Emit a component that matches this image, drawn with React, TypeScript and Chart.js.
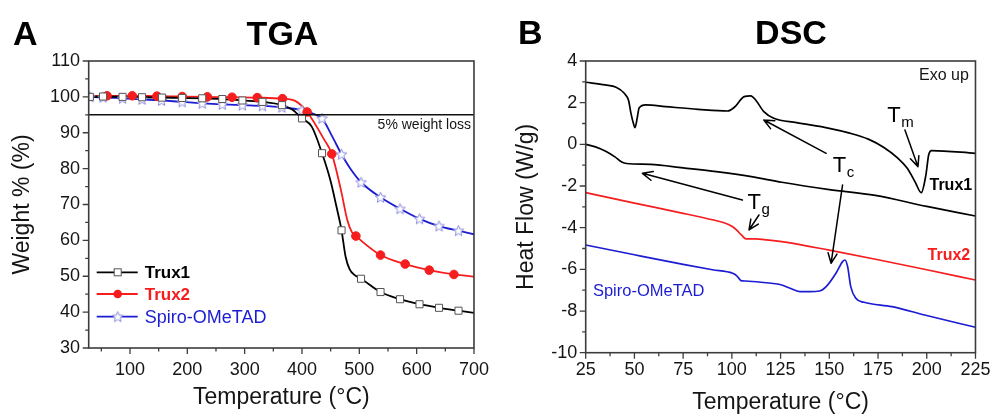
import React, { useEffect, useRef } from 'react';
import { Chart, registerables } from 'chart.js';

Chart.register(...registerables);

// ---------------- Axis ticks ----------------
const tgaXTicks = [100, 200, 300, 400, 500, 600, 700];
const tgaXMinor = [50, 150, 250, 350, 450, 550, 650];
const tgaYTicks = [30, 40, 50, 60, 70, 80, 90, 100, 110];
const tgaYMinor = [35, 45, 55, 65, 75, 85, 95, 105];
const dscXTicks = [25, 50, 75, 100, 125, 150, 175, 200, 225];
const dscXMinor = [37.5, 62.5, 87.5, 112.5, 137.5, 162.5, 187.5, 212.5];
const dscYTicks = [-10, -8, -6, -4, -2, 0, 2, 4];
const dscYMinor = [-9, -7, -5, -3, -1, 1, 3];

// ---------------- TGA data (temperature °C, weight %) ----------------
// marker points
const trux1MarkT = [30, 53, 87, 121, 156, 191, 226, 261, 296, 331, 365, 400, 435, 469, 503, 537, 571, 605, 639, 673];
const trux1MarkW = [100.0, 100.1, 100.0, 99.9, 99.8, 99.7, 99.6, 99.4, 99.0, 98.6, 97.7, 94.0, 84.3, 62.8, 49.3, 45.6, 43.6, 42.2, 41.2, 40.4];
// extra curve points between markers
const trux1CurveT = [383, 417, 450, 460, 476, 483, 492, 700];
const trux1CurveW = [96.5, 91.7, 76.5, 69.5, 55.5, 52.0, 50.3, 39.8];

const trux2MarkT = [60, 104, 147, 191, 235, 278, 322, 366, 409, 452, 494, 537, 580, 622, 665];
const trux2MarkW = [100.3, 100.3, 100.2, 100.1, 100.0, 99.9, 99.8, 99.5, 95.8, 84.1, 61.2, 55.9, 53.4, 51.7, 50.5];
const trux2CurveT = [30, 388, 439, 468, 479, 487, 700];
const trux2CurveW = [100.2, 98.9, 88.0, 74.0, 65.7, 62.3, 49.9];

const spiroMarkT = [30, 53, 87, 121, 155, 191, 226, 261, 296, 331, 365, 400, 435, 469, 503, 537, 571, 605, 639, 673];
const spiroMarkW = [100.0, 99.9, 99.6, 99.3, 99.0, 98.6, 98.2, 97.9, 97.7, 97.5, 97.1, 96.3, 94.0, 84.0, 76.2, 72.0, 68.8, 66.0, 64.0, 62.7];
const spiroCurveT = [418, 452, 486, 700];
const spiroCurveW = [95.4, 89.2, 79.6, 61.7];

const weightLossLevel = 95;

// ---------------- DSC data (temperature °C, heat flow W/g) ----------------
const dscTrux1aT = [25, 35, 40.6, 44.8, 47, 48.2, 49.5, 50.3, 51.5, 52.4, 55.8, 65.9, 82.7, 97.9, 101.3, 106.3, 109.7, 112.2, 116.4, 121.5, 133.2, 150, 160, 170, 178, 185, 190, 194, 197.2, 199.5, 201, 202.5, 225];
const dscTrux1aH = [2.98, 2.85, 2.74, 2.45, 2.1, 1.5, 1.0, 0.8, 1.3, 1.74, 1.89, 1.81, 1.68, 1.6, 1.78, 2.29, 2.33, 2.13, 1.57, 1.25, 1.04, 0.77, 0.55, 0.25, -0.15, -0.65, -1.15, -1.8, -2.32, -1.5, -0.5, -0.3, -0.43];

const dscTrux1bT = [25, 30, 35, 40, 43.5, 46, 58.3, 75, 92, 110, 125.6, 150, 173.6, 200, 225];
const dscTrux1bH = [0.0, -0.12, -0.32, -0.6, -0.85, -0.92, -0.96, -1.13, -1.31, -1.55, -1.82, -2.17, -2.45, -2.98, -3.44];

const dscTrux2T = [25, 50, 75, 90, 96, 100, 102.5, 105, 107.3, 112, 116.4, 125.6, 150, 175, 200, 225];
const dscTrux2H = [-2.32, -2.82, -3.31, -3.62, -3.76, -3.93, -4.12, -4.36, -4.54, -4.54, -4.57, -4.67, -5.08, -5.54, -6.02, -6.51];

const dscSpiroT = [25, 50, 75, 90, 100.4, 102.4, 103.5, 104.6, 107.1, 115, 125.6, 129.9, 134.9, 140, 145, 148.4, 153.4, 156.8, 158, 159.4, 161, 163.6, 167.8, 182.1, 198.9, 225];
const dscSpiroH = [-4.83, -5.3, -5.76, -6.02, -6.19, -6.3, -6.42, -6.54, -6.56, -6.62, -6.75, -6.91, -7.07, -7.07, -7.04, -6.83, -6.19, -5.63, -5.55, -5.87, -6.83, -7.39, -7.58, -7.79, -8.19, -8.78];

// ---------------- styles ----------------
const FONT = "'Liberation Sans', Arial, Helvetica, sans-serif";
const AXIS = '#3c3c3c';
const RED = '#f51d1d';
const BLUE = '#1c1cd2';
const TXT = '#151515';

const pts = (xs: number[], ys: number[]) => xs.map((x, i) => ({ x, y: ys[i] }));
const merged = (a: any[], b: any[]) => [...a, ...b].sort((p, q) => p.x - q.x);

function makeStar(): HTMLCanvasElement {
  const c = document.createElement('canvas');
  const s = 13;
  c.width = s;
  c.height = s;
  const g = c.getContext('2d')!;
  const cx = s / 2, cy = s / 2 + 0.4, R = 5.6, r = 2.5;
  g.beginPath();
  for (let i = 0; i < 10; i++) {
    const a = -Math.PI / 2 + (i * Math.PI) / 5;
    const rad = i % 2 ? r : R;
    g.lineTo(cx + rad * Math.cos(a), cy + rad * Math.sin(a));
  }
  g.closePath();
  g.fillStyle = '#ffffff';
  g.fill();
  g.strokeStyle = '#8a8ade';
  g.lineWidth = 1;
  g.stroke();
  return c;
}

function frameAndTicks(xMajor: number[], xMinor: number[], yMajor: number[], yMinor: number[]) {
  return {
    id: 'frameTicks',
    afterDraw(chart: any) {
      const { ctx, chartArea: a, scales } = chart;
      ctx.save();
      ctx.strokeStyle = AXIS;
      ctx.lineWidth = 1.6;
      ctx.strokeRect(a.left, a.top, a.right - a.left, a.bottom - a.top);
      ctx.lineWidth = 1.3;
      ctx.beginPath();
      const tx = (vals: number[], len: number) => {
        for (const v of vals) {
          const p = scales.x.getPixelForValue(v);
          ctx.moveTo(p, a.bottom);
          ctx.lineTo(p, a.bottom + len);
        }
      };
      const ty = (vals: number[], len: number) => {
        for (const v of vals) {
          const p = scales.y.getPixelForValue(v);
          ctx.moveTo(a.left, p);
          ctx.lineTo(a.left - len, p);
        }
      };
      tx(xMajor, 6);
      tx(xMinor, 3.5);
      ty(yMajor, 6);
      ty(yMinor, 3.5);
      ctx.stroke();
      ctx.restore();
    },
  };
}

function headings(letter: string, title: string, letterX: number, titleX: number, baseY: number) {
  return {
    id: 'headings',
    afterDraw(chart: any) {
      const { ctx } = chart;
      ctx.save();
      ctx.fillStyle = '#000';
      ctx.font = `bold 34px ${FONT}`;
      ctx.textBaseline = 'alphabetic';
      ctx.textAlign = 'left';
      ctx.fillText(letter, letterX, baseY);
      ctx.textAlign = 'center';
      ctx.fillText(title, titleX, baseY);
      ctx.restore();
    },
  };
}

function drawArrow(ctx: CanvasRenderingContext2D, x1: number, y1: number, x2: number, y2: number) {
  const ang = Math.atan2(y2 - y1, x2 - x1);
  const L = 11, A = 0.42;
  ctx.beginPath();
  ctx.moveTo(x1, y1);
  ctx.lineTo(x2, y2);
  ctx.moveTo(x2 - L * Math.cos(ang - A), y2 - L * Math.sin(ang - A));
  ctx.lineTo(x2, y2);
  ctx.lineTo(x2 - L * Math.cos(ang + A), y2 - L * Math.sin(ang + A));
  ctx.stroke();
}

function scalesCfg(o: any) {
  const tickFont = { family: FONT, size: 18 };
  const titleFont = { family: FONT, size: 23 };
  return {
    x: {
      type: 'linear',
      min: o.xMin,
      max: o.xMax,
      afterBuildTicks: (s: any) => { s.ticks = o.xTicks.map((v: number) => ({ value: v })); },
      afterFit: (s: any) => { s.height = o.xHeight; },
      grid: { display: false, drawTicks: false },
      border: { display: false },
      ticks: { padding: o.xPad, font: tickFont, color: TXT, maxRotation: 0, autoSkip: false },
      title: { display: true, text: 'Temperature (°C)', font: titleFont, color: TXT, padding: { top: 0, bottom: o.xTitlePad } },
    },
    y: {
      type: 'linear',
      min: o.yMin,
      max: o.yMax,
      afterBuildTicks: (s: any) => { s.ticks = o.yTicks.map((v: number) => ({ value: v })); },
      afterFit: (s: any) => { s.width = o.yWidth; },
      grid: { display: false, drawTicks: false },
      border: { display: false },
      ticks: { padding: o.yPad, font: tickFont, color: TXT, autoSkip: false },
      title: { display: true, text: o.yTitle, font: titleFont, color: TXT, padding: { top: o.yTitlePad, bottom: 0 } },
    },
  };
}

function tgaConfig(star: HTMLCanvasElement): any {
  const series = [
    { color: '#000000', mark: pts(trux1MarkT, trux1MarkW), extra: pts(trux1CurveT, trux1CurveW), style: 'rect', radius: 5, fill: '#ffffff', border: '#555555' },
    { color: RED, mark: pts(trux2MarkT, trux2MarkW), extra: pts(trux2CurveT, trux2CurveW), style: 'circle', radius: 4.3, fill: RED, border: RED },
    { color: BLUE, mark: pts(spiroMarkT, spiroMarkW), extra: pts(spiroCurveT, spiroCurveW), style: star, radius: 6, fill: '#ffffff', border: '#8a8ade' },
  ];
  const datasets: any[] = [];
  series.forEach((s) => {
    datasets.push({
      data: merged(s.mark, s.extra),
      borderColor: s.color,
      borderWidth: 1.8,
      pointRadius: 0,
      cubicInterpolationMode: 'monotone',
      fill: false,
      order: 10,
    });
  });
  series.forEach((s) => {
    datasets.push({
      data: s.mark,
      showLine: false,
      pointStyle: s.style,
      pointRadius: s.radius,
      pointBackgroundColor: s.fill,
      pointBorderColor: s.border,
      pointBorderWidth: 1,
      order: 0,
    });
  });

  const legendRows = [
    { label: 'Trux1', color: '#000000', bold: true, idx: 0 },
    { label: 'Trux2', color: RED, bold: true, idx: 1 },
    { label: 'Spiro-OMeTAD', color: BLUE, bold: false, idx: 2 },
  ];

  const annot = {
    id: 'tgaAnnot',
    afterDatasetsDraw(chart: any) {
      const { ctx, chartArea: a, scales } = chart;
      ctx.save();
      // 5% weight loss line
      const yl = scales.y.getPixelForValue(weightLossLevel);
      ctx.strokeStyle = '#111';
      ctx.lineWidth = 1.5;
      ctx.beginPath();
      ctx.moveTo(a.left, yl);
      ctx.lineTo(a.right, yl);
      ctx.stroke();
      ctx.fillStyle = TXT;
      ctx.font = `14px ${FONT}`;
      ctx.textAlign = 'right';
      ctx.textBaseline = 'middle';
      ctx.fillText('5% weight loss', scales.x.getPixelForValue(694.8), scales.y.getPixelForValue(92.2));

      // legend
      const rowY = [a.bottom - 75.7, a.bottom - 54, a.bottom - 31.3];
      legendRows.forEach((r, i) => {
        const y = rowY[i];
        const x0 = a.left + 8, x1 = a.left + 49, xm = a.left + 29;
        ctx.strokeStyle = r.color;
        ctx.lineWidth = 1.8;
        ctx.beginPath();
        ctx.moveTo(x0, y);
        ctx.lineTo(x1, y);
        ctx.stroke();
        const s = series[r.idx];
        if (r.idx === 0) {
          ctx.fillStyle = '#fff';
          ctx.strokeStyle = '#555';
          ctx.lineWidth = 1;
          ctx.fillRect(xm - 3.5, y - 3.5, 7, 7);
          ctx.strokeRect(xm - 3.5, y - 3.5, 7, 7);
        } else if (r.idx === 1) {
          ctx.fillStyle = RED;
          ctx.beginPath();
          ctx.arc(xm, y, 4.3, 0, Math.PI * 2);
          ctx.fill();
        } else {
          ctx.drawImage(s.style as HTMLCanvasElement, xm - 6.5, y - 6.5);
        }
        ctx.fillStyle = r.color;
        ctx.font = r.bold ? `bold 17px ${FONT}` : `18px ${FONT}`;
        ctx.textAlign = 'left';
        ctx.textBaseline = 'middle';
        ctx.fillText(r.label, a.left + 56, y + 1);
      });
      ctx.restore();
    },
  };

  return {
    type: 'line',
    data: { datasets },
    options: {
      responsive: false,
      animation: false,
      layout: { padding: { left: 0, right: 16.7, top: 61, bottom: 0 } },
      plugins: { legend: { display: false }, tooltip: { enabled: false } },
      scales: scalesCfg({
        xMin: 28, xMax: 700, xTicks: tgaXTicks, xHeight: 68, xPad: 11, xTitlePad: 5,
        yMin: 30, yMax: 110, yTicks: tgaYTicks, yWidth: 88.7, yPad: 8.7, yTitle: 'Weight % (%)', yTitlePad: 9,
      }),
    },
    plugins: [frameAndTicks(tgaXTicks, tgaXMinor, tgaYTicks, tgaYMinor), headings('A', 'TGA', 13, 282.5, 45), annot],
  };
}

function dscConfig(): any {
  const lines = [
    { data: pts(dscTrux1aT, dscTrux1aH), color: '#000000' },
    { data: pts(dscTrux1bT, dscTrux1bH), color: '#000000' },
    { data: pts(dscTrux2T, dscTrux2H), color: RED },
    { data: pts(dscSpiroT, dscSpiroH), color: BLUE },
  ];
  const datasets = lines.map((l) => ({
    data: l.data,
    borderColor: l.color,
    borderWidth: 1.7,
    pointRadius: 0,
    cubicInterpolationMode: 'monotone',
    fill: false,
  }));

  // annotation arrows in data coordinates: [fromT, fromH, toT, toH]
  const arrows = [
    [148.4, -0.43, 116.4, 1.17],
    [156.8, -1.95, 150.9, -5.71],
    [188.8, 0.69, 195.5, -1.07],
    [105.4, -2.67, 54.1, -1.39],
    [113.9, -3.39, 108.8, -4.11],
  ];
  const subLabels = [
    { main: 'T', sub: 'c', t: 151.8, h: -1.31 },
    { main: 'T', sub: 'm', t: 179.7, h: 1.07 },
    { main: 'T', sub: 'g', t: 108.0, h: -3.1 },
  ];
  const texts = [
    { text: 'Exo up', t: 221.6, h: 3.28, align: 'right', font: `16px ${FONT}`, color: TXT },
    { text: 'Trux1', t: 201.4, h: -2.0, align: 'left', font: `bold 16px ${FONT}`, color: '#000' },
    { text: 'Trux2', t: 200.4, h: -5.36, align: 'left', font: `bold 16px ${FONT}`, color: RED },
    { text: 'Spiro-OMeTAD', t: 28.7, h: -7.06, align: 'left', font: `16.5px ${FONT}`, color: BLUE },
  ];

  const annot = {
    id: 'dscAnnot',
    afterDatasetsDraw(chart: any) {
      const { ctx, scales } = chart;
      const X = (v: number) => scales.x.getPixelForValue(v);
      const Y = (v: number) => scales.y.getPixelForValue(v);
      ctx.save();
      ctx.strokeStyle = '#000';
      ctx.lineWidth = 1.5;
      ctx.lineCap = 'round';
      ctx.lineJoin = 'round';
      arrows.forEach((ar) => drawArrow(ctx, X(ar[0]), Y(ar[1]), X(ar[2]), Y(ar[3])));
      ctx.fillStyle = '#000';
      ctx.textBaseline = 'alphabetic';
      ctx.textAlign = 'left';
      subLabels.forEach((l) => {
        ctx.font = `22px ${FONT}`;
        const x = X(l.t), y = Y(l.h);
        ctx.fillText(l.main, x, y);
        const w = ctx.measureText(l.main).width;
        ctx.font = `15px ${FONT}`;
        ctx.fillText(l.sub, x + w + 0.5, y + 5);
      });
      ctx.textBaseline = 'middle';
      texts.forEach((t) => {
        ctx.font = t.font;
        ctx.fillStyle = t.color;
        ctx.textAlign = t.align;
        ctx.fillText(t.text, X(t.t), Y(t.h));
      });
      ctx.restore();
    },
  };

  return {
    type: 'line',
    data: { datasets },
    options: {
      responsive: false,
      animation: false,
      layout: { padding: { left: 0, right: 15.3, top: 61, bottom: 0 } },
      plugins: { legend: { display: false }, tooltip: { enabled: false } },
      scales: scalesCfg({
        xMin: 25, xMax: 225, xTicks: dscXTicks, xHeight: 63.3, xPad: 6.5, xTitlePad: 0,
        yMin: -10, yMax: 4, yTicks: dscYTicks, yWidth: 85.7, yPad: 8.4, yTitle: 'Heat Flow (W/g)', yTitlePad: 13,
      }),
    },
    plugins: [frameAndTicks(dscXTicks, dscXMinor, dscYTicks, dscYMinor), headings('B', 'DSC', 18, 291, 44), annot],
  };
}

export default function App() {
  const leftRef = useRef<HTMLCanvasElement>(null);
  const rightRef = useRef<HTMLCanvasElement>(null);

  useEffect(() => {
    const star = makeStar();
    const c1 = new Chart(leftRef.current as HTMLCanvasElement, tgaConfig(star));
    const c2 = new Chart(rightRef.current as HTMLCanvasElement, dscConfig());
    return () => {
      c1.destroy();
      c2.destroy();
    };
  }, []);

  return (
    <div style={{ position: 'fixed', left: 0, top: 0, width: 997, height: 416, background: '#ffffff' }}>
      <canvas ref={leftRef} width={500} height={416} style={{ position: 'absolute', left: 0, top: 0, width: 500, height: 416 }} />
      <canvas ref={rightRef} width={497} height={416} style={{ position: 'absolute', left: 500, top: 0, width: 497, height: 416 }} />
    </div>
  );
}
